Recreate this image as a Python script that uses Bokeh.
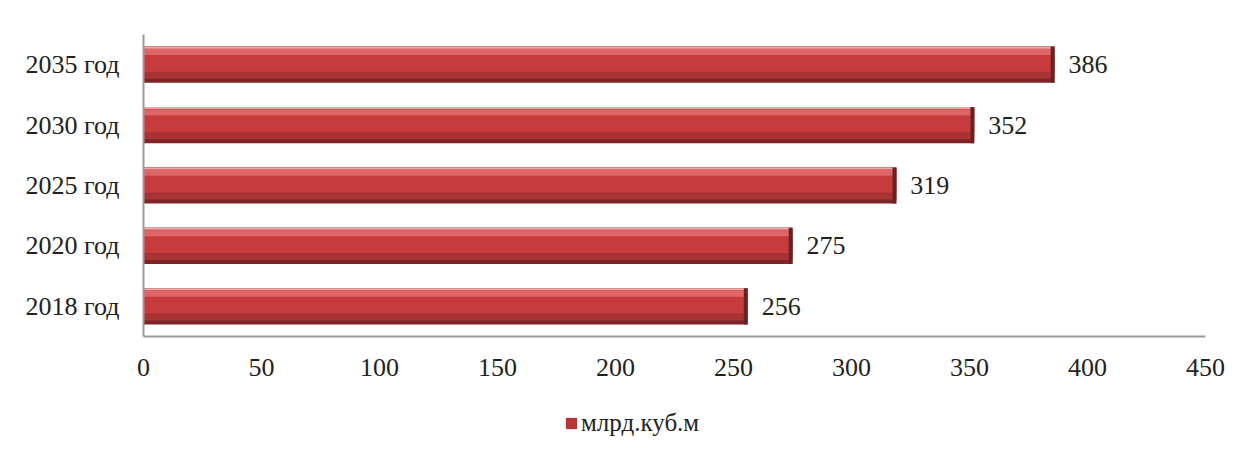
from bokeh.plotting import figure
from bokeh.layouts import column
from bokeh.models import FactorRange, Range1d, Legend, LegendItem, ColumnDataSource, FixedTicker
from bokeh.transform import dodge
from bokeh.core.properties import value
from bokeh.embed import file_html
from bokeh.resources import INLINE

categories = ["2018 год", "2020 год", "2025 год", "2030 год", "2035 год"]
values = [256, 275, 319, 352, 386]
labels = [str(v) for v in values]
series_name = "млрд.куб.м"
x_ticks = [0, 50, 100, 150, 200, 250, 300, 350, 400, 450]

FONT = "Liberation Serif"

src = ColumnDataSource(dict(y=categories, v=values, lab=labels,
                            cap=[v - 1.6 for v in values]))

chart = figure(width=1240, height=384, y_range=FactorRange(*categories),
               x_range=Range1d(0, 450), output_backend="svg", toolbar_location=None,
               min_border_left=143, min_border_right=35, min_border_top=34,
               min_border_bottom=48)

# bar layers (shading, bottom to top)
chart.hbar(y="y", right="v", left=0, height=0.60, source=src,
           fill_color="#7d2526", line_color=None)
chart.hbar(y=dodge("y", 0.033, range=chart.y_range), right="v", left=0, height=0.533, source=src,
           fill_color="#a93234", line_color=None)
chart.hbar(y=dodge("y", 0.075, range=chart.y_range), right="v", left=0, height=0.383, source=src,
           fill_color="#c83b3d", line_color=None)
chart.hbar(y=dodge("y", 0.21, range=chart.y_range), right="v", left=0, height=0.10, source=src,
           fill_color="#df6566", line_color=None)
chart.hbar(y=dodge("y", 0.283, range=chart.y_range), right="v", left=0, height=0.034, source=src,
           fill_color="#eea5a5", line_color=None)
# darker right-hand end cap
chart.hbar(y="y", right="v", left="cap", height=0.60, source=src,
           fill_color="#6e1f20", line_color=None)

chart.text(x="v", y="y", text="lab", source=src, x_offset=14, text_align="left",
           text_baseline="middle", text_font=value(FONT), text_font_size="26px",
           text_color="#222222")

chart.xgrid.grid_line_color = None
chart.ygrid.grid_line_color = None
chart.outline_line_color = None
chart.border_fill_color = "white"
chart.background_fill_color = "white"

chart.xaxis.ticker = FixedTicker(ticks=x_ticks)
for ax in (chart.xaxis[0], chart.yaxis[0]):
    ax.axis_line_color = "#9a9a9a"
    ax.axis_line_width = 2
    ax.major_tick_line_color = None
    ax.minor_tick_line_color = None
    ax.major_label_text_font = FONT
    ax.major_label_text_font_size = "26px"
    ax.major_label_text_color = "#222222"
chart.xaxis.major_label_standoff = 16
chart.yaxis.major_label_standoff = 18

# legend strip below the chart
leg_fig = figure(width=1240, height=60, x_axis_type=None, y_axis_type=None,
                 x_range=Range1d(0, 1), y_range=Range1d(0, 1),
                 output_backend="svg", toolbar_location=None,
                 min_border_left=0, min_border_right=0, min_border_top=0, min_border_bottom=0)
leg_fig.outline_line_color = None
leg_fig.xgrid.grid_line_color = None
leg_fig.ygrid.grid_line_color = None
# zero-width helper bar: only provides the legend swatch
leg_src = ColumnDataSource(dict(y=[0.5], v=[0]))
leg_r = leg_fig.hbar(y="y", right="v", left=0, height=0.6, source=leg_src,
                     fill_color="#b83436", line_color=None)

legend = Legend(items=[LegendItem(label=series_name, renderers=[leg_r])],
                orientation="horizontal", location=(421, 7),
                label_text_font=FONT, label_text_font_size="25px", label_text_color="#222222",
                glyph_width=14, glyph_height=14, border_line_color=None,
                background_fill_alpha=0, padding=0, margin=0, label_standoff=3)
leg_fig.add_layout(legend, "center")

p = column(chart, leg_fig, spacing=0)

open("out.html", "w").write(file_html(p, INLINE))
